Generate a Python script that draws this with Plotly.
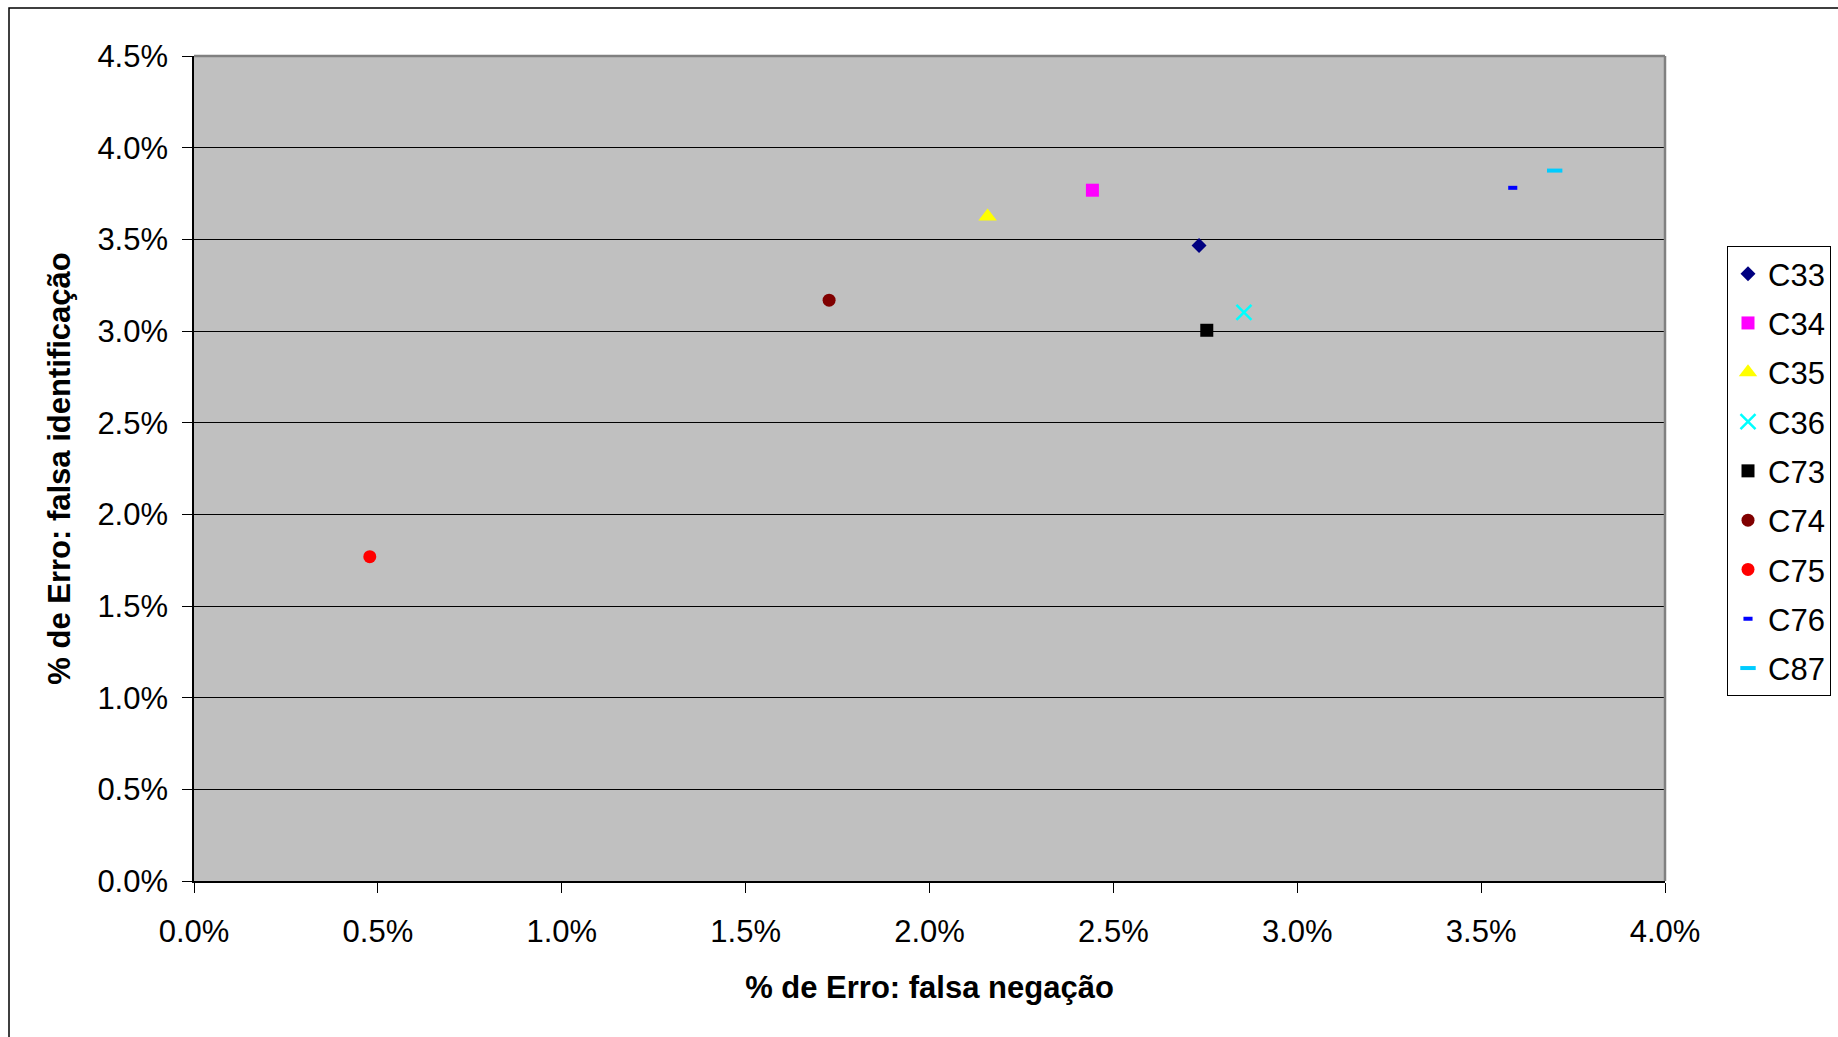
import plotly.graph_objects as go

# Data (fractions; axes show percent)
series_names = ["C33", "C34", "C35", "C36", "C73", "C74", "C75", "C76", "C87"]
x_false_negation = [0.02733, 0.02443, 0.02158, 0.02855, 0.02754, 0.01727, 0.00478, 0.03586, 0.03700]
y_false_identification = [0.03466, 0.03768, 0.03625, 0.03102, 0.03004, 0.03168, 0.01769, 0.03781, 0.03875]

colors = ["#000080", "#FF00FF", "#FFFF00", "#00FFFF", "#000000", "#800000", "#FF0000", "#0000FF", "#00CCFF"]
symbols = ["diamond", "square", "triangle-up", "x-thin", "square", "circle", "circle", "line-ew", "line-ew"]
sizes = [11.5, 13, 16, 15, 13, 13, 13, 6.5, 11]

x_ticks = [0.0, 0.005, 0.01, 0.015, 0.02, 0.025, 0.03, 0.035, 0.04]
y_ticks = [0.0, 0.005, 0.01, 0.015, 0.02, 0.025, 0.03, 0.035, 0.04, 0.045]

FONT = "Liberation Sans, Arial, sans-serif"

fig = go.Figure()
for i, name in enumerate(series_names):
    sym = symbols[i]
    if sym in ("x-thin", "line-ew"):
        marker = dict(symbol=sym, size=sizes[i], color=colors[i],
                      line=dict(color=colors[i], width=2.5 if sym == "x-thin" else 4))
    else:
        marker = dict(symbol=sym, size=sizes[i], color=colors[i], line=dict(width=0))
    fig.add_trace(go.Scatter(
        x=[x_false_negation[i]], y=[y_false_identification[i]],
        mode="markers", name=name, marker=marker,
        legendgroup=name,
    ))

L, R, T, B = 194, 173, 56, 156
W, H = 1838, 1037
pw, ph = W - L - R, H - T - B

def px_to_paper_x(px):
    return (px - L) / pw

def px_to_paper_y(py):
    return (H - B - py) / ph

fig.update_layout(
    width=W, height=H,
    margin=dict(l=L, r=R, t=T, b=B, autoexpand=False),
    paper_bgcolor="white",
    plot_bgcolor="#C0C0C0",
    font=dict(family=FONT, size=31, color="black"),
    showlegend=True,
    legend=dict(
        x=px_to_paper_x(1727), y=px_to_paper_y(246),
        xanchor="left", yanchor="top",
        bgcolor="white", bordercolor="black", borderwidth=1,
        font=dict(family=FONT, size=31, color="black"),
        tracegroupgap=6,
        itemsizing="trace",
    ),
    xaxis=dict(
        range=[0, 0.04], tickvals=x_ticks, tickformat=".1%",
        showgrid=False, zeroline=False,
        showline=True, linecolor="black", linewidth=1.5,
        ticks="outside", ticklen=10, tickcolor="black", tickwidth=1,
        tickfont=dict(family=FONT, size=31),
        ticklabelstandoff=12,
        title=dict(text="<b>% de Erro: falsa negação</b>", font=dict(family=FONT, size=31), standoff=28),
        automargin=False,
    ),
    yaxis=dict(
        range=[0, 0.045], tickvals=y_ticks, tickformat=".1%",
        showgrid=True, gridcolor="black", gridwidth=1,
        zeroline=False,
        showline=True, linecolor="black", linewidth=1.5,
        ticks="outside", ticklen=10, tickcolor="black", tickwidth=1,
        tickfont=dict(family=FONT, size=31),
        ticklabelstandoff=8,
        title=dict(text="<b>% de Erro: falsa identificação</b>", font=dict(family=FONT, size=31), standoff=18),
        automargin=False,
    ),
    shapes=[
        # plot area top and right border (grey)
        dict(type="line", xref="paper", yref="paper", x0=0, x1=1, y0=1, y1=1,
             line=dict(color="#808080", width=2.5), layer="above"),
        dict(type="line", xref="paper", yref="paper", x0=1, x1=1, y0=0, y1=1,
             line=dict(color="#808080", width=2.5), layer="above"),
        # outer chart border (cropped at right and bottom)
        dict(type="rect", xref="paper", yref="paper",
             x0=px_to_paper_x(9), x1=px_to_paper_x(1850),
             y0=px_to_paper_y(1050), y1=px_to_paper_y(8),
             line=dict(color="black", width=1.5), fillcolor="rgba(0,0,0,0)", layer="below"),
    ],
)

fig.write_html("out.html")
